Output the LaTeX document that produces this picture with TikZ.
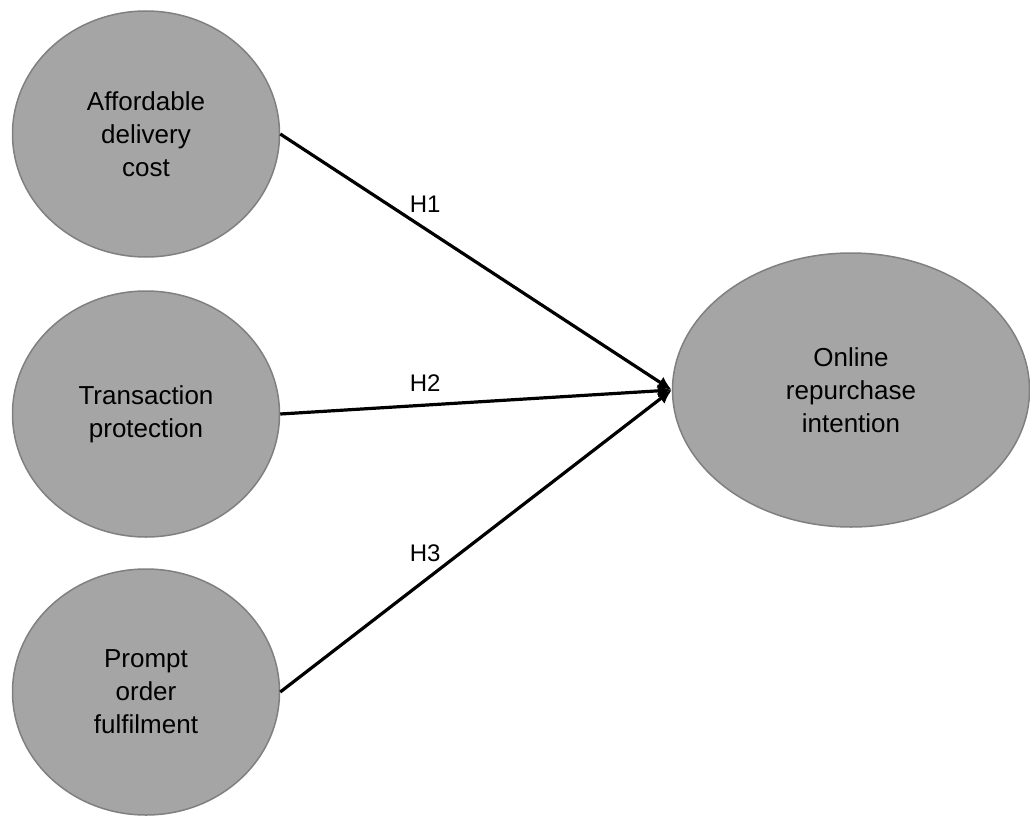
\documentclass[tikz,border=0pt]{standalone}
\usepackage{fontspec}
\setmainfont{Liberation Sans}
\usetikzlibrary{arrows.meta,shapes.geometric}

\definecolor{cfill}{HTML}{A5A5A5}
\definecolor{cedge}{HTML}{808080}

\begin{document}
\begin{tikzpicture}[
  x=1pt, y=-1pt,
  >={Latex[length=14pt,width=13pt]},
  every node/.style={font=\fontsize{26}{33}\selectfont},
  construct/.style={ellipse, draw=cedge, line width=1.5pt, fill=cfill,
    inner sep=0pt, align=center},
  small/.style={construct, minimum width=267pt, minimum height=246pt},
  big/.style={construct, minimum width=357pt, minimum height=274pt},
  hyp/.style={line width=3.2pt, ->},
  lab/.style={pos=0.37, inner sep=1pt, font=\fontsize{24}{28}\selectfont}
]
\useasboundingbox (0,0) rectangle (1030,816);

% Nodes
\node[small] (ADC) at (146,134) {Affordable\\delivery\\cost};
\node[small] (TP)  at (146,414) {Transaction\\protection};
\node[small] (POF) at (146,692) {Prompt\\order\\fulfilment};

\node[big] (ORI) at (851,390) {Online\\repurchase\\intention};

% Arrows + labels
\draw[hyp] (ADC.east) -- (ORI.west) node[lab, above=14pt] {H1};
\draw[hyp] (TP.east)  -- (ORI.west) node[lab, above=11pt] {H2};
\draw[hyp] (POF.east) -- (ORI.west) node[lab, above=16pt] {H3};

\end{tikzpicture}
\end{document}
